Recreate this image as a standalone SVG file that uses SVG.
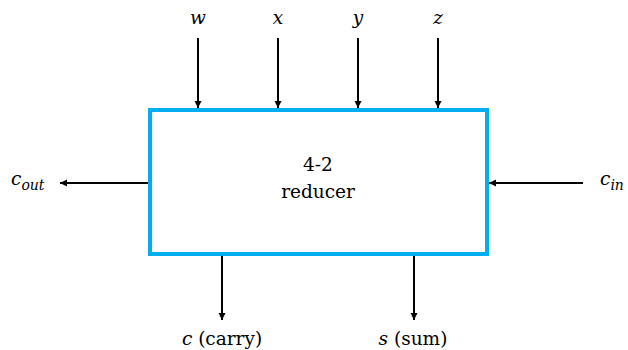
<svg xmlns="http://www.w3.org/2000/svg" width="628" height="350" viewBox="0 0 628 350">
<defs>
<marker id="ah" viewBox="0 0 10 10" refX="10" refY="5" markerWidth="7" markerHeight="12" markerUnits="userSpaceOnUse" orient="auto"><path d="M0,0 L10,5 L0,10 z" fill="#000"/></marker>
<style>
.c{stroke:#000;stroke-width:2;fill:none;marker-end:url(#ah)}
text{font-family:"DejaVu Serif","Liberation Serif",serif;font-size:18.5px;fill:#000}
.i{font-style:italic}
</style>
</defs>
<g id="reducer">
<rect x="150" y="110" width="337" height="144" fill="#fff" stroke="#00aeef" stroke-width="4"/>
<text x="318" y="171" text-anchor="middle">4-2</text>
<text x="318" y="198" text-anchor="middle">reducer</text>
</g>
<g id="connectors">
<line class="c" x1="198" y1="38" x2="198" y2="108"/>
<line class="c" x1="278" y1="38" x2="278" y2="108"/>
<line class="c" x1="358" y1="38" x2="358" y2="108"/>
<line class="c" x1="438" y1="38" x2="438" y2="108"/>
<line class="c" x1="148" y1="183" x2="60" y2="183"/>
<line class="c" x1="583" y1="183" x2="489" y2="183"/>
<line class="c" x1="222" y1="256" x2="222" y2="320"/>
<line class="c" x1="414" y1="256" x2="414" y2="320"/>
</g>
<g id="w"><text class="i" x="198" y="24" text-anchor="middle">w</text></g>
<g id="x"><text class="i" x="278" y="24" text-anchor="middle">x</text></g>
<g id="y"><text class="i" x="358" y="24" text-anchor="middle">y</text></g>
<g id="z"><text class="i" x="438" y="24" text-anchor="middle">z</text></g>
<g id="cout"><text class="i" x="11" y="185">c<tspan font-size="14" dy="5">out</tspan></text></g>
<g id="cin"><text class="i" x="600" y="185">c<tspan font-size="14" dy="5">in</tspan></text></g>
<g id="carry"><text x="222" y="345" text-anchor="middle"><tspan class="i">c</tspan> (carry)</text></g>
<g id="sum"><text x="413" y="345" text-anchor="middle"><tspan class="i">s</tspan> (sum)</text></g>
</svg>
